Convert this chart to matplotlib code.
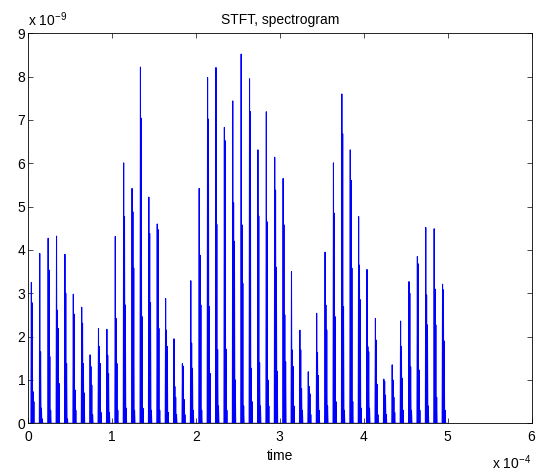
import numpy as np
import matplotlib
matplotlib.use("Agg")
import matplotlib.pyplot as plt

plt.rcParams["font.family"] = ["Liberation Sans", "DejaVu Sans"]
plt.rcParams["mathtext.default"] = "regular"

# Each pulse: [peak, 2nd, 3rd, 4th spike] in units of 1e-9
pulses = [
    [3.25, 2.78, 0.73, 0.50], [3.92, 1.65, 0.35, 0.10], [4.27, 3.54, 1.54, 0.30],
    [4.32, 2.61, 2.19, 0.92], [3.90, 3.00, 1.38, 0.10], [2.98, 2.52, 0.77, 0.30],
    [2.68, 2.31, 1.38, 0.70], [1.58, 1.31, 0.88, 0.20], [2.19, 1.77, 1.38, 0.25],
    [2.17, 1.57, 1.15, 0.25], [4.31, 2.42, 1.38, 0.30], [6.01, 4.77, 2.73, 0.35],
    [5.42, 4.88, 3.58, 0.30], [8.22, 7.04, 2.46, 0.35], [5.22, 4.38, 2.78, 0.30],
    [4.60, 4.47, 2.19, 0.30], [2.88, 2.15, 1.77, 0.25], [1.95, 0.85, 0.60, 0.20],
    [1.38, 1.32, 0.55, 0.20], [3.29, 1.85, 1.27, 0.30], [5.42, 3.88, 2.73, 0.30],
    [7.98, 7.02, 2.69, 1.15], [8.21, 4.59, 1.70, 0.40], [6.83, 6.52, 1.71, 0.30],
    [7.44, 5.09, 4.20, 1.00], [8.52, 4.58, 3.23, 0.40], [7.95, 7.19, 1.27, 0.50],
    [6.31, 4.78, 1.40, 0.40], [7.19, 4.65, 1.00, 0.40], [6.14, 5.38, 3.60, 1.20],
    [5.65, 4.58, 2.50, 1.42], [3.50, 1.69, 1.31, 0.40], [2.15, 1.69, 0.80, 0.30],
    [1.19, 0.85, 0.68, 0.20], [2.54, 1.63, 1.10, 0.30], [3.95, 2.73, 2.15, 0.40],
    [6.01, 4.85, 2.46, 0.50], [7.60, 6.68, 2.69, 0.30], [6.31, 5.61, 3.58, 0.50],
    [4.77, 3.65, 2.85, 0.35], [3.55, 1.77, 1.65, 0.35], [2.42, 1.92, 0.90, 0.20],
    [1.02, 0.97, 0.65, 0.20], [1.35, 1.00, 0.60, 0.25], [2.36, 1.77, 1.04, 0.30],
    [3.27, 3.00, 1.30, 0.30], [3.85, 3.68, 1.23, 0.30], [4.52, 2.96, 2.27, 0.40],
    [4.49, 3.10, 2.27, 0.60], [3.21, 3.08, 1.90, 0.30],
]

dt = 0.5e-6        # sample step, s
period = 20        # samples between pulses
first = 8          # sample index of the first peak
n_samples = 1001

# lay the pulses out on the sample grid, each spike separated by a zero sample
values = np.zeros(n_samples)
for k, p in enumerate(pulses):
    i = first + k * period
    values[i:i + 2 * len(p):2] = p
t = np.arange(n_samples) * dt

fig = plt.figure(figsize=(5.4, 4.73), dpi=100)
ax = fig.add_axes([28 / 540, 1 - 423.3 / 473, (531.5 - 28) / 540, (423.3 - 33.3) / 473])

ax.plot(t * 1e4, values, color=(0, 0, 1), linewidth=0.75)

ax.set_xlim(0, 6)
ax.set_ylim(0, 9)
ax.set_xticks(range(0, 7))
ax.set_yticks(range(0, 10))
ax.tick_params(direction="in", length=3.6, width=0.5, labelsize=10,
               top=True, right=True, color="black")
ax.tick_params(axis="x", pad=4.5)
ax.tick_params(axis="y", pad=2)
for s in ax.spines.values():
    s.set_linewidth(0.6)

ax.set_title("STFT, spectrogram", fontsize=10, pad=7)
ax.set_xlabel("time", fontsize=10, labelpad=4)

fig.text(28 / 540, 1 - 26 / 473, "x 10$^{-9}$", fontsize=10, ha="left", va="baseline")
fig.text(531 / 540, 1 - 469 / 473, "x 10$^{-4}$", fontsize=10, ha="right", va="baseline")

fig.savefig("out.png", dpi=100)
